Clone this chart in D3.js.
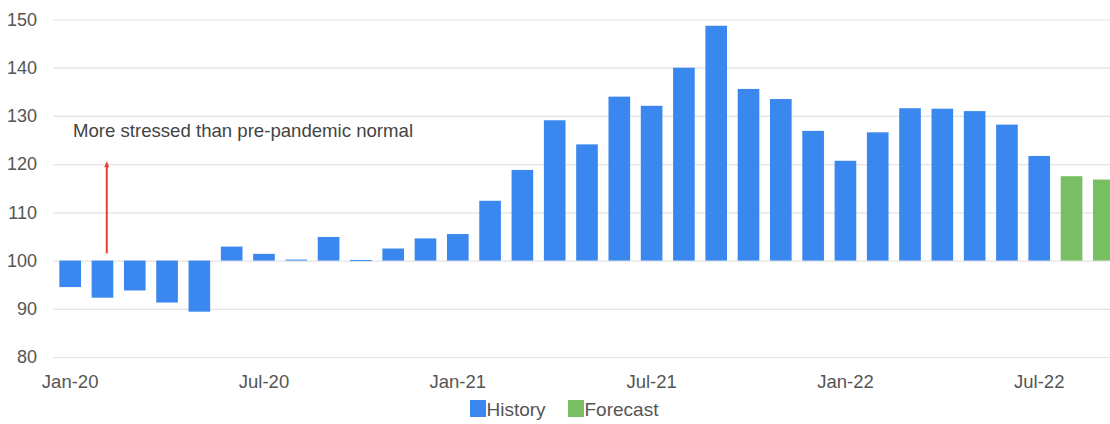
<!DOCTYPE html>
<html>
<head>
<meta charset="utf-8">
<script src="https://cdn.jsdelivr.net/npm/d3@7"></script>
<style>
  html, body { margin: 0; padding: 0; background: #fff; overflow: hidden; }
  svg { display: block; font-family: "Liberation Sans", Arial, sans-serif; }
</style>
</head>
<body>
<svg id="chart" width="1110" height="424"></svg>
<script>
// Monthly index, Jan-20 .. Sep-22 (100 = pre-pandemic normal)
const months = [
  "Jan-20","Feb-20","Mar-20","Apr-20","May-20","Jun-20","Jul-20","Aug-20","Sep-20","Oct-20","Nov-20","Dec-20",
  "Jan-21","Feb-21","Mar-21","Apr-21","May-21","Jun-21","Jul-21","Aug-21","Sep-21","Oct-21","Nov-21","Dec-21",
  "Jan-22","Feb-22","Mar-22","Apr-22","May-22","Jun-22","Jul-22","Aug-22","Sep-22"
];
const values = [
  94.5, 92.3, 93.8, 91.3, 89.4, 102.9, 101.4, 100.2, 104.9, 100.1, 102.5, 104.6,
  105.5, 112.4, 118.8, 129.1, 124.1, 134.0, 132.1, 140.0, 148.7, 135.6, 133.5, 126.9,
  120.7, 126.6, 131.6, 131.5, 131.0, 128.2, 121.7, 117.5, 116.8
];
const seriesOf = [
  "History","History","History","History","History","History","History","History","History","History","History","History",
  "History","History","History","History","History","History","History","History","History","History","History","History",
  "History","History","History","History","History","History","History","Forecast","Forecast"
];
const seriesNames = ["History", "Forecast"];
const seriesColors = ["#3a87f0", "#77bf62"];
const yTicks = [80, 90, 100, 110, 120, 130, 140, 150];
const xTickLabels = ["Jan-20", "Jul-20", "Jan-21", "Jul-21", "Jan-22", "Jul-22"];
const baseline = 100;
const noteText = "More stressed than pre-pandemic normal";
const noteFrom = 101.5;
const noteTo = 120.2;
const noteMonth = "Feb-20";

const svg = d3.select("#chart");

const x = d3.scaleBand().domain(months).range([54, 1120]).paddingInner(0.33).paddingOuter(0.165);
const y = d3.scaleLinear().domain([80, 150]).range([357, 19.5]);
const color = d3.scaleOrdinal().domain(seriesNames).range(seriesColors);

// horizontal gridlines + y labels
const yAxis = d3.axisLeft(y).tickValues(yTicks).tickSize(-(1110 - 53)).tickPadding(16);
const gy = svg.append("g").attr("transform", "translate(53,0)").call(yAxis);
gy.select(".domain").remove();
gy.selectAll(".tick line").attr("stroke", "#e3e3e3").attr("stroke-width", 1.2);
gy.selectAll(".tick text").attr("fill", "#555").attr("font-size", 18);

// bars grow up or down from the 100 baseline
svg.append("g").selectAll("rect").data(months).join("rect")
  .attr("x", d => x(d))
  .attr("width", x.bandwidth())
  .attr("y", (d, i) => y(Math.max(values[i], baseline)))
  .attr("height", (d, i) => Math.max(1, Math.abs(y(values[i]) - y(baseline))))
  .attr("fill", (d, i) => color(seriesOf[i]));

// x axis labels
const xAxis = d3.axisBottom(x).tickValues(xTickLabels).tickSize(0).tickPadding(0);
const gx = svg.append("g").attr("transform", "translate(0,375)").call(xAxis);
gx.select(".domain").remove();
gx.selectAll(".tick text").attr("fill", "#555").attr("font-size", 18.5).attr("dy", "0.71em");

// annotation arrow
const ax = x(noteMonth) + x.bandwidth() * 0.7;
svg.append("line")
  .attr("x1", ax).attr("x2", ax)
  .attr("y1", y(noteFrom)).attr("y2", y(noteTo))
  .attr("stroke", "#e8412f").attr("stroke-width", 2);
svg.append("path")
  .attr("d", `M${ax - 2.5},${y(noteTo) + 4} L${ax},${y(noteTo) - 2} L${ax + 2.5},${y(noteTo) + 4} Z`)
  .attr("fill", "#e8412f");
svg.append("text")
  .attr("x", 73).attr("y", 137)
  .attr("fill", "#444").attr("font-size", 18.6)
  .text(noteText);

// legend
const legend = svg.append("g").attr("transform", "translate(470,400)");
const items = legend.selectAll("g").data(seriesNames).join("g")
  .attr("transform", (d, i) => `translate(${i * 98},0)`);
items.append("rect").attr("width", 16).attr("height", 17).attr("fill", d => color(d));
items.append("text").attr("x", 16.5).attr("y", 16).attr("fill", "#555").attr("font-size", 19).text(d => d);
</script>
</body>
</html>
